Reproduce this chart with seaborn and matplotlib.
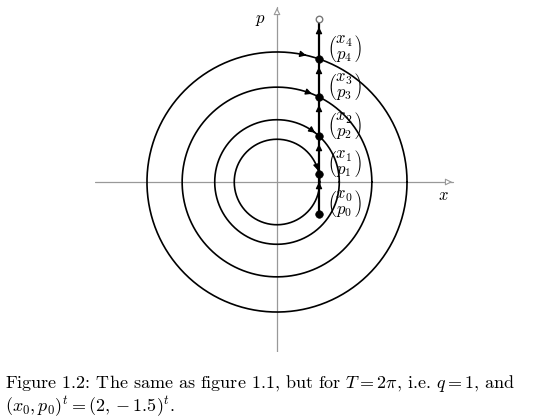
import numpy as np
import pandas as pd
import matplotlib
matplotlib.use("Agg")
import matplotlib.pyplot as plt
import seaborn as sns

sns.set_style("white")
plt.rcParams['font.family'] = ['cmr10', 'DejaVu Serif']
plt.rcParams['mathtext.fontset'] = 'cm'
plt.rcParams['text.color'] = 'black'
plt.rcParams['axes.unicode_minus'] = False

x_pts = [2.0, 2.0, 2.0, 2.0, 2.0]
p_pts = [-1.5, 0.38, 2.19, 4.05, 5.86]
labels = ["0", "1", "2", "3", "4"]
p_end = 7.76

fig = plt.figure(figsize=(5.55, 4.2), dpi=100)
W, H = 555, 420
ax = fig.add_axes([95/W, 1-352/H, 360/W, 347/H])
s = 21.0
ax.set_xlim((95-277)/s, (455-277)/s)
ax.set_ylim(-(352-182)/s, (182-5)/s)
ax.axis('off')

ax.plot([(95-277)/s, (455-277)/s - 0.1], [0, 0], color='#999999', lw=0.9)
ax.plot([0, 0], [-(352-182)/s, (182-5)/s - 0.1], color='#999999', lw=0.9)
ax.annotate('', xy=((455-277)/s, 0), xytext=((455-277)/s-0.5, 0),
            arrowprops=dict(arrowstyle='-|>', color='#999999', fc='white', lw=0.8))
ax.annotate('', xy=(0, (182-5)/s), xytext=(0, (182-5)/s-0.5),
            arrowprops=dict(arrowstyle='-|>', color='#999999', fc='white', lw=0.8))
ax.text(-0.55, 7.7, r'$p$', fontsize=12, ha='right', va='center')
ax.text(7.9, -0.65, r'$x$', fontsize=12, ha='center', va='center')

th = np.linspace(0, 2*np.pi, 400)
for xp, pp in zip(x_pts[1:], p_pts[1:]):
    r = np.hypot(xp, pp)
    ax.plot(r*np.cos(th), r*np.sin(th), color='black', lw=1.2)
    a0 = np.arctan2(pp, xp) + 0.08
    ax.annotate('', xy=(r*np.cos(a0), r*np.sin(a0)),
                xytext=(r*np.cos(a0+0.05), r*np.sin(a0+0.05)),
                arrowprops=dict(arrowstyle='-|>', color='black', lw=1, mutation_scale=9))

df = pd.DataFrame({'x': x_pts + [2.0], 'p': p_pts + [p_end]})
sns.lineplot(data=df, x='x', y='p', sort=False, estimator=None, color='black', lw=1.6, ax=ax)
allp = p_pts + [p_end]
for a, b in zip(allp[:-1], allp[1:]):
    m = b - 0.25
    ax.annotate('', xy=(2.0, m), xytext=(2.0, m-0.3),
                arrowprops=dict(arrowstyle='-|>', color='black', lw=1, mutation_scale=9))
sns.scatterplot(x=x_pts, y=p_pts, color='black', s=30, zorder=5, ax=ax, edgecolor='black')
ax.scatter([2.0], [p_end], s=22, facecolor='white', edgecolor='#777777', zorder=5)
ax.set_xlabel(''); ax.set_ylabel('')

for xp, pp, l in zip(x_pts, p_pts, labels):
    ax.text(xp+0.4, pp+0.5, r'$\left(\genfrac{}{}{0}{0}{x_%s}{p_%s}\right)$' % (l, l),
            fontsize=12, ha='left', va='center')

fig.text(5/W, 1-384/H, r'Figure 1.2: The same as figure 1.1, but for $T=2\pi$, i.e. $q=1$, and',
         fontsize=13, va='center', ha='left')
fig.text(5/W, 1-407/H, r'$(x_0,p_0)^t=(2,-1.5)^t$.', fontsize=13, va='center', ha='left')

fig.savefig('out.png', dpi=100)
